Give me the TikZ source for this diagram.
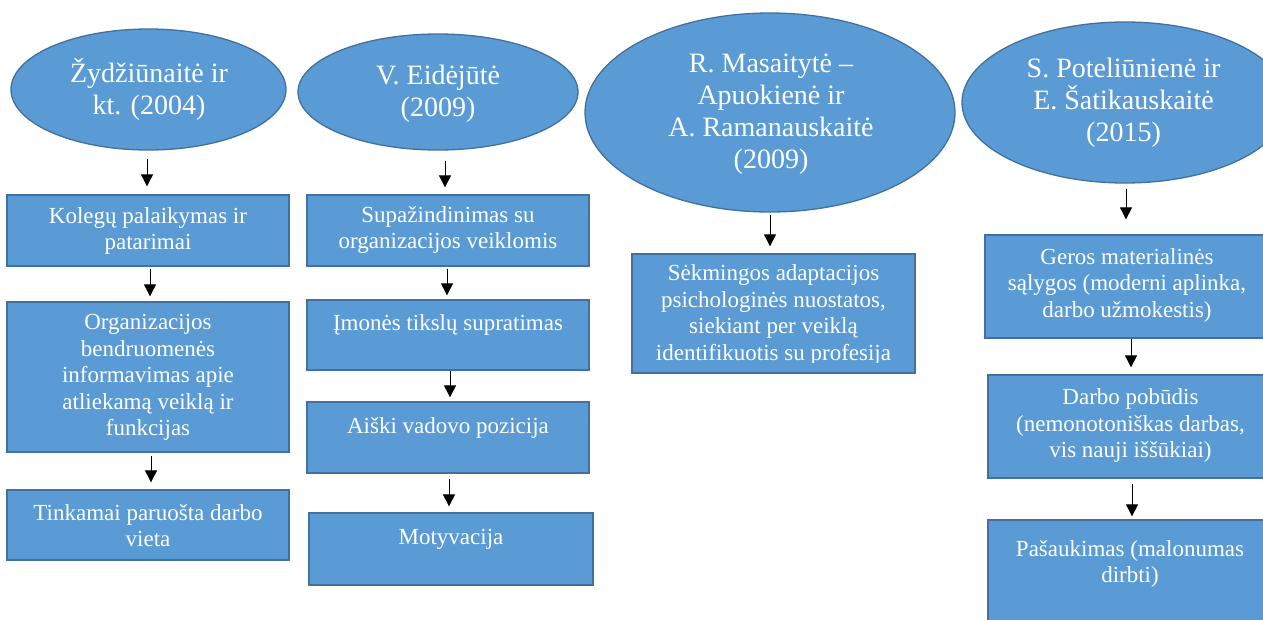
\documentclass[tikz,border=0pt]{standalone}
\usepackage{fontspec}
\setmainfont{Liberation Serif}
\usetikzlibrary{arrows.meta,shapes.geometric}
\definecolor{fillb}{HTML}{5B9BD5}
\definecolor{edgeb}{HTML}{41719C}
\tikzset{
  bx/.style={draw=edgeb, fill=fillb, line width=1.3pt, rectangle, inner sep=0pt},
  ell/.style={draw=edgeb, fill=fillb, line width=1.3pt, ellipse, inner sep=0pt},
  txt/.style={text=white, align=center, inner sep=0pt, font=\fontsize{23}{26.5}\selectfont},
  etxt/.style={text=white, align=center, inner sep=0pt, font=\fontsize{28}{32}\selectfont},
  arr/.style={-{Triangle[width=12pt,length=12pt]}, line width=0.9pt, black}
}
\newcommand{\boxnode}[5]{%
  \node[bx, minimum width={(#4-#2)*1pt}, minimum height={(#5-#3)*1pt}] (#1) at ({(#2+#4)/2},{(#3+#5)/2}) {};}
\begin{document}
\begin{tikzpicture}[x=1pt,y=-1pt]
\clip (0,0) rectangle (1263,619);
\fill[white] (0,0) rectangle (1263,619);

% column 1
\node[ell, minimum width=275pt, minimum height=121pt] (e1) at (148.5,89.5) {};
\node[etxt] (te1) at (149,89) {Žydžiūnaitė ir\\kt. (2004)};
\boxnode{b11}{7}{195}{289}{266}
\node[txt] (t11) at (148,231) {Kolegų palaikymas ir\\patarimai};
\boxnode{b12}{7}{302}{289}{452}
\node[txt] (t12) at (148,377.5) {Organizacijos\\bendruomenės\\informavimas apie\\atliekamą veiklą ir\\funkcijas};
\boxnode{b13}{7}{490}{289}{560}
\node[txt] (t13) at (148,525.5) {Tinkamai paruošta darbo\\vieta};
\draw[arr, shorten <=8pt, shorten >=8pt] ([xshift=-1.5pt]e1.south) -- ([xshift=-1pt]b11.north);
\draw[arr, shorten <=2pt, shorten >=5pt] ([xshift=2pt]b11.south) -- ([xshift=2pt]b12.north);
\draw[arr, shorten <=3pt, shorten >=7pt] ([xshift=3pt]b12.south) -- ([xshift=3pt]b13.north);

% column 2
\node[ell, minimum width=280pt, minimum height=116pt] (e2) at (438,92) {};
\node[etxt] (te2) at (438,93.5) {V. Eidėjūtė\\(2009)};
\boxnode{b21}{307}{195}{589}{266}
\node[txt] (t21) at (448,230) {Supažindinimas su\\organizacijos veiklomis};
\boxnode{b22}{307}{300}{589}{370}
\node[txt] (t22) at (448,325) {Įmonės tikslų supratimas};
\boxnode{b23}{307}{402}{589}{473}
\node[txt] (t23) at (448,428) {Aiški vadovo pozicija};
\boxnode{b24}{309}{513}{593}{585}
\node[txt] (t24) at (451,539) {Motyvacija};
\draw[arr, shorten <=10pt, shorten >=7pt] ([xshift=7pt]e2.south) -- ([xshift=-3pt]b21.north);
\draw[arr, shorten <=2pt, shorten >=4pt] ([xshift=-1pt]b21.south) -- ([xshift=-1pt]b22.north);
\draw[arr, shorten <=0pt, shorten >=4pt] ([xshift=2pt]b22.south) -- ([xshift=2pt]b23.north);
\draw[arr, shorten <=5pt, shorten >=6pt] ([xshift=1pt]b23.south) -- ([xshift=-2pt]b24.north);

% column 3
\node[ell, minimum width=370pt, minimum height=199pt] (e3) at (770,112.5) {};
\node[etxt] (te3) at (771,114) {R. Masaitytė –\\Apuokienė ir\\A. Ramanauskaitė\\(2009)};
\boxnode{b31}{632}{254}{915}{373}
\begin{scope}
\clip (632,254) rectangle (915,362);
\node[txt] (t31) at (773.5,315) {Sėkmingos adaptacijos\\psichologinės nuostatos,\\siekiant per veiklą\\identifikuotis su profesija};
\end{scope}
\draw[arr, shorten <=2pt, shorten >=7pt] (e3.south) -- ([xshift=-3.5pt]b31.north);

% column 4
\node[ell, minimum width=326pt, minimum height=161pt] (e4) at (1125,102.5) {};
\node[etxt] (te4) at (1123.5,103) {S. Poteliūnienė ir\\E. Šatikauskaitė\\(2015)};
\boxnode{b41}{985}{235}{1270}{338}
\node[txt] (t41) at (1127,285) {Geros materialinės\\sąlygos (moderni aplinka,\\darbo užmokestis)};
\boxnode{b42}{988}{375}{1272}{478}
\node[txt] (t42) at (1130.5,425.5) {Darbo pobūdis\\(nemonotoniškas darbas,\\vis nauji iššūkiai)};
\boxnode{b43}{988}{520}{1272}{640}
\node[txt] (t43) at (1130,564) {Pašaukimas (malonumas\\dirbti)};
\draw[arr, shorten <=5pt, shorten >=15pt] ([xshift=1pt]e4.south) -- ([xshift=-1.5pt]b41.north);
\draw[arr, shorten <=0pt, shorten >=7pt] ([xshift=3.5pt]b41.south) -- ([xshift=1pt]b42.north);
\draw[arr, shorten <=5pt, shorten >=3pt] ([xshift=2pt]b42.south) -- ([xshift=2pt]b43.north);
\end{tikzpicture}
\end{document}
